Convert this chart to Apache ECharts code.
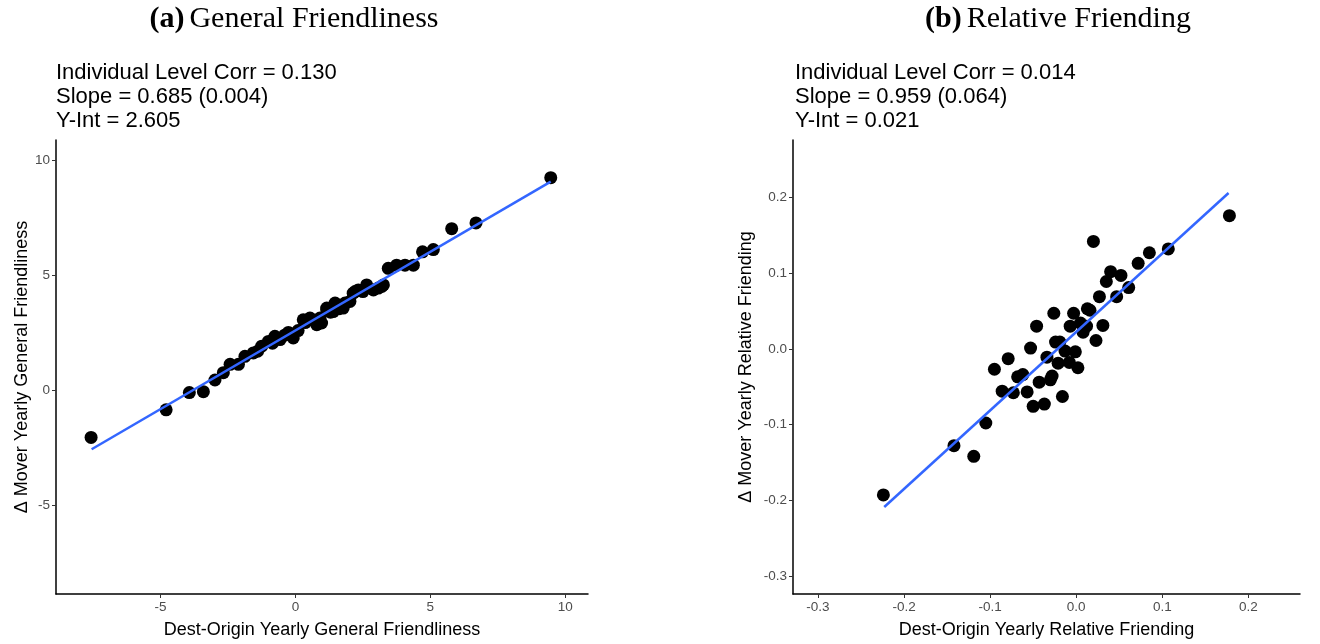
<!DOCTYPE html>
<html>
<head>
<meta charset="utf-8">
<script src="https://cdn.jsdelivr.net/npm/echarts@6/dist/echarts.min.js"></script>
<style>html,body{margin:0;padding:0;background:#fff;}#c{width:1320px;height:644px;}</style>
</head>
<body>
<div id="c"></div>
<script>
// Panel (a): General Friendliness
const genX = [-7.57,-4.79,-3.93,-3.41,-2.98,-2.67,-2.42,-2.11,-1.87,-1.56,-1.40,-1.25,-1.00,-0.85,-0.76,-0.57,-0.40,-0.26,-0.08,0.10,0.29,0.36,0.54,0.60,0.79,0.91,0.97,1.16,1.16,1.30,1.40,1.47,1.60,1.77,1.84,2.02,2.14,2.21,2.33,2.50,2.64,2.89,3.07,3.20,3.26,3.44,3.75,4.06,4.37,4.71,5.11,5.79,6.69,9.46];
const genY = [-2.05,-0.85,-0.10,-0.06,0.45,0.77,1.13,1.13,1.48,1.63,1.70,1.92,2.13,2.05,2.35,2.21,2.40,2.52,2.28,2.60,3.07,2.95,3.15,3.07,2.86,3.15,2.93,3.51,3.58,3.40,3.43,3.80,3.55,3.58,3.80,3.87,4.23,4.30,4.37,4.30,4.59,4.37,4.45,4.52,4.59,5.31,5.45,5.45,5.45,6.03,6.13,7.04,7.29,9.26];
const genFitX = [-7.55, 9.46];
const genFitY = [-2.567, 9.085];
const genTicks = [-5, 0, 5, 10];

// Panel (b): Relative Friending
const relX = [-0.224,-0.142,-0.119,-0.105,-0.095,-0.079,-0.086,-0.073,-0.068,-0.062,-0.057,-0.050,-0.037,-0.053,-0.046,-0.043,-0.030,-0.028,-0.034,-0.026,-0.024,-0.019,-0.021,-0.016,-0.013,-0.008,-0.001,0.002,-0.007,-0.003,0.005,0.008,0.012,0.013,0.016,0.020,0.023,0.031,0.027,0.035,0.040,0.047,0.052,0.061,0.072,0.085,0.107,0.178];
const relY = [-0.193,-0.128,-0.142,-0.098,-0.027,-0.013,-0.056,-0.058,-0.037,-0.034,-0.057,-0.076,-0.073,0.001,0.030,-0.044,-0.041,-0.036,-0.011,0.047,0.009,0.009,-0.019,-0.063,-0.003,-0.018,-0.004,-0.025,0.030,0.047,0.034,0.022,0.030,0.053,0.051,0.142,0.011,0.031,0.069,0.089,0.102,0.069,0.097,0.081,0.113,0.127,0.132,0.176];
const relFitX = [-0.223, 0.177];
const relFitY = [-0.209, 0.206];
const relTicks = [-0.3, -0.2, -0.1, 0.0, 0.1, 0.2];

const titleA = ['(a)', 'General Friendliness'];
const titleB = ['(b)', 'Relative Friending'];
const noteA = ['Individual Level Corr = 0.130', 'Slope = 0.685 (0.004)', 'Y-Int = 2.605'];
const noteB = ['Individual Level Corr = 0.014', 'Slope = 0.959 (0.064)', 'Y-Int = 0.021'];
const xNameA = 'Dest-Origin Yearly General Friendliness';
const yNameA = '\u0394 Mover Yearly General Friendliness';
const xNameB = 'Dest-Origin Yearly Relative Friending';
const yNameB = '\u0394 Mover Yearly Relative Friending';

const zip = (a, b) => a.map((v, i) => [v, b[i]]);
const SANS = '"Liberation Sans", Arial, sans-serif';
const SERIF = '"Liberation Serif", "DejaVu Serif", serif';

function axis(gi, min, max, ticks, fmt, name, isY, gap) {
  return {
    type: 'value', gridIndex: gi, min: min, max: max,
    name: name, nameLocation: 'middle', nameGap: gap,
    nameTextStyle: { fontFamily: SANS, fontSize: 18, color: '#000' },
    axisLine: { show: true, onZero: false, lineStyle: { color: '#000', width: 1.5 } },
    axisTick: { show: true, length: 4, customValues: ticks, lineStyle: { color: '#333', width: 1 } },
    axisLabel: { show: true, customValues: ticks, formatter: fmt, color: '#4d4d4d', fontFamily: SANS, fontSize: 13.5, margin: isY ? 6 : 6, showMinLabel: true, showMaxLabel: true },
    splitLine: { show: false }
  };
}
const fmtInt = v => String(Math.round(v));
const fmt1 = v => (Math.abs(v) < 1e-9 ? 0 : v).toFixed(1);

const chart = echarts.init(document.getElementById('c'), null, { renderer: 'canvas' });
const titleRich = {
  b: { fontFamily: SERIF, fontWeight: 'bold', fontSize: 30, color: '#000' },
  n: { fontFamily: SERIF, fontWeight: 'normal', fontSize: 30, color: '#000' }
};
const noteStyle = { fontFamily: SANS, fontSize: 22, fontWeight: 'normal', lineHeight: 24, color: '#000' };
chart.setOption({
  animation: false,
  backgroundColor: '#fff',
  title: [
    { text: '{b|' + titleA[0] + '} {n|' + titleA[1] + '}', left: 294, top: 4, padding: 0, textAlign: 'center', textStyle: { fontWeight: 'normal', rich: titleRich } },
    { text: '{b|' + titleB[0] + '} {n|' + titleB[1] + '}', left: 1058, top: 4, padding: 0, textAlign: 'center', textStyle: { fontWeight: 'normal', rich: titleRich } },
    { text: noteA.join('\n'), left: 56, top: 61, padding: 0, textStyle: noteStyle },
    { text: noteB.join('\n'), left: 795, top: 61, padding: 0, textStyle: noteStyle }
  ],
  grid: [
    { left: 56, top: 140, width: 532, height: 456 },
    { left: 793, top: 140, width: 507, height: 455 }
  ],
  xAxis: [
    axis(0, -8.87, 10.84, genTicks, fmtInt, xNameA, false, 27),
    axis(1, -0.329, 0.26, relTicks, fmt1, xNameB, false, 27)
  ],
  yAxis: [
    axis(0, -8.87, 10.9, genTicks, fmtInt, yNameA, true, 22),
    axis(1, -0.324, 0.276, relTicks, fmt1, yNameB, true, 38)
  ],
  series: [
    { type: 'scatter', xAxisIndex: 0, yAxisIndex: 0, data: zip(genX, genY), symbolSize: 13, itemStyle: { color: '#000', opacity: 1 }, z: 2 },
    { type: 'line', xAxisIndex: 0, yAxisIndex: 0, data: zip(genFitX, genFitY), showSymbol: false, symbol: 'none', lineStyle: { color: '#3366FF', width: 2.5 }, z: 3 },
    { type: 'scatter', xAxisIndex: 1, yAxisIndex: 1, data: zip(relX, relY), symbolSize: 13, itemStyle: { color: '#000', opacity: 1 }, z: 2 },
    { type: 'line', xAxisIndex: 1, yAxisIndex: 1, data: zip(relFitX, relFitY), showSymbol: false, symbol: 'none', lineStyle: { color: '#3366FF', width: 2.5 }, z: 3 }
  ]
});
</script>
</body>
</html>
